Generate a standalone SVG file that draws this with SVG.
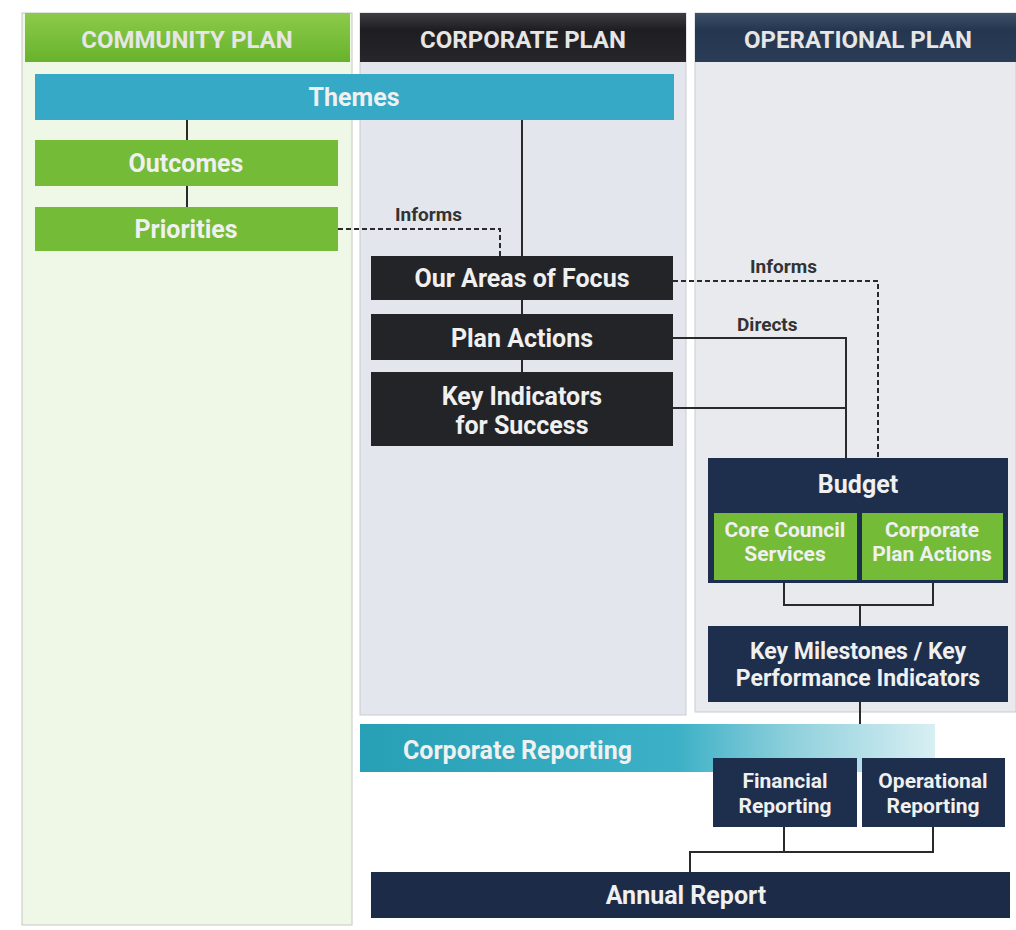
<svg xmlns="http://www.w3.org/2000/svg" width="1016" height="930" viewBox="0 0 1016 930">
  <defs>
    <linearGradient id="gGreenHead" x1="0" y1="0" x2="0" y2="1">
      <stop offset="0" stop-color="#8ccb4a"/>
      <stop offset="1" stop-color="#68b22c"/>
    </linearGradient>
    <linearGradient id="gDarkHead" x1="0" y1="0" x2="0" y2="1">
      <stop offset="0" stop-color="#3c3c42"/>
      <stop offset="0.35" stop-color="#1e1e22"/>
      <stop offset="1" stop-color="#26262b"/>
    </linearGradient>
    <linearGradient id="gNavyHead" x1="0" y1="0" x2="0" y2="1">
      <stop offset="0" stop-color="#3e5068"/>
      <stop offset="0.35" stop-color="#253750"/>
      <stop offset="1" stop-color="#2b3d56"/>
    </linearGradient>
    <linearGradient id="gReport" x1="0" y1="0" x2="1" y2="0">
      <stop offset="0" stop-color="#27a0b6"/>
      <stop offset="0.55" stop-color="#3cb0c6"/>
      <stop offset="0.75" stop-color="#8fd0dc"/>
      <stop offset="1" stop-color="#d8eff3"/>
    </linearGradient>
    <style>
      .hdr { font-family: Roboto, "Liberation Sans", sans-serif; font-weight: 700; font-size: 24px; text-anchor: middle; fill: #e6e6e6; }
      .lbl { font-family: Roboto, "Liberation Sans", sans-serif; font-weight: 700; font-size: 25px; text-anchor: middle; fill: #f0f0f0; }
      .mid { font-size: 23px; }
      .sm { font-size: 21px; }
      .note { font-family: Roboto, "Liberation Sans", sans-serif; font-weight: 700; font-size: 19px; fill: #333; }
      .dark { fill: #232427; }
      .navy { fill: #1d2f4c; }
      .green { fill: #74bb38; }
      .teal { fill: #36a9c6; }
      .conn { fill: none; stroke: #2a2a2a; stroke-width: 2; }
      .dash { stroke-dasharray: 5 3; }
    </style>
  </defs>

  <rect width="1016" height="930" fill="#ffffff"/>

  <!-- column bodies -->
  <g id="columns">
    <rect x="22" y="13" width="330" height="912" fill="#eff7e6" stroke="#c4c8c4" stroke-width="1"/>
    <rect x="360" y="13" width="326" height="702" fill="#e3e7ed" stroke="#c8cbd0" stroke-width="1"/>
    <rect x="695" y="13" width="321" height="699" fill="#e8eaee" stroke="#c8cbd0" stroke-width="1"/>
  </g>

  <!-- column headers -->
  <g id="header-community">
    <rect x="25" y="13" width="325" height="49" fill="url(#gGreenHead)"/>
    <text class="hdr" x="187" y="48">COMMUNITY PLAN</text>
  </g>
  <g id="header-corporate">
    <rect x="360" y="13" width="326" height="49" fill="url(#gDarkHead)"/>
    <text class="hdr" x="523" y="48">CORPORATE PLAN</text>
  </g>
  <g id="header-operational">
    <rect x="695" y="13" width="321" height="49" fill="url(#gNavyHead)"/>
    <text class="hdr" x="858" y="48">OPERATIONAL PLAN</text>
  </g>

  <!-- connectors -->
  <g id="connectors">
    <path class="conn" d="M187 120 V140"/>
    <path class="conn" d="M187 186 V207"/>
    <path class="conn" d="M522 120 V256"/>
    <path class="conn" d="M522 300 V314"/>
    <path class="conn" d="M522 360 V372"/>
    <path class="conn dash" d="M338 229 H500 V256"/>
    <path class="conn dash" d="M673 281 H878 V458"/>
    <path class="conn" d="M673 338 H846 V458"/>
    <path class="conn" d="M673 408 H846"/>
    <path class="conn" d="M784 583 V605 H933 V583"/>
    <path class="conn" d="M860 605 V626"/>
    <path class="conn" d="M860 702 V738"/>
    <path class="conn" d="M784 758 V738 H933 V758"/>
    <path class="conn" d="M784 827 V852"/>
    <path class="conn" d="M933 827 V852 H690 V872"/>
    <text class="note" x="395" y="221">Informs</text>
    <text class="note" x="750" y="273">Informs</text>
    <text class="note" x="737" y="331">Directs</text>
  </g>

  <!-- Community plan nodes -->
  <g id="themes">
    <rect class="teal" x="35" y="74" width="639" height="46"/>
    <text class="lbl" x="354" y="106">Themes</text>
  </g>
  <g id="outcomes">
    <rect class="green" x="35" y="140" width="303" height="46"/>
    <text class="lbl" x="186" y="172">Outcomes</text>
  </g>
  <g id="priorities">
    <rect class="green" x="35" y="207" width="303" height="44"/>
    <text class="lbl" x="186" y="238">Priorities</text>
  </g>

  <!-- Corporate plan nodes -->
  <g id="areas-of-focus">
    <rect class="dark" x="371" y="256" width="302" height="44"/>
    <text class="lbl" x="522" y="287">Our Areas of Focus</text>
  </g>
  <g id="plan-actions">
    <rect class="dark" x="371" y="314" width="302" height="46"/>
    <text class="lbl" x="522" y="347">Plan Actions</text>
  </g>
  <g id="key-indicators">
    <rect class="dark" x="371" y="372" width="302" height="74"/>
    <text class="lbl" x="522" y="405">Key Indicators</text>
    <text class="lbl" x="522" y="434">for Success</text>
  </g>

  <!-- Operational plan nodes -->
  <g id="budget">
    <rect class="navy" x="708" y="458" width="300" height="125"/>
    <text class="lbl" x="858" y="493">Budget</text>
  </g>
  <g id="core-council-services">
    <rect class="green" x="714" y="513" width="143" height="67"/>
    <text class="lbl sm" x="785" y="537">Core Council</text>
    <text class="lbl sm" x="785" y="561">Services</text>
  </g>
  <g id="corporate-plan-actions">
    <rect class="green" x="862" y="513" width="141" height="67"/>
    <text class="lbl sm" x="932" y="537">Corporate</text>
    <text class="lbl sm" x="932" y="561">Plan Actions</text>
  </g>
  <g id="key-milestones">
    <rect class="navy" x="708" y="626" width="300" height="76"/>
    <text class="lbl mid" x="858" y="659">Key Milestones / Key</text>
    <text class="lbl mid" x="858" y="686">Performance Indicators</text>
  </g>

  <!-- Reporting -->
  <g id="corporate-reporting">
    <rect x="360" y="724" width="575" height="48" fill="url(#gReport)"/>
    <text class="lbl" x="403" y="759" style="text-anchor:start">Corporate Reporting</text>
  </g>
  <g id="financial-reporting">
    <rect class="navy" x="713" y="758" width="144" height="69"/>
    <text class="lbl sm" x="785" y="788">Financial</text>
    <text class="lbl sm" x="785" y="813">Reporting</text>
  </g>
  <g id="operational-reporting">
    <rect class="navy" x="862" y="758" width="143" height="69"/>
    <text class="lbl sm" x="933" y="788">Operational</text>
    <text class="lbl sm" x="933" y="813">Reporting</text>
  </g>
  <g id="annual-report">
    <rect x="371" y="872" width="639" height="46" fill="#1c2b47"/>
    <text class="lbl" x="686" y="904">Annual Report</text>
  </g>
</svg>
